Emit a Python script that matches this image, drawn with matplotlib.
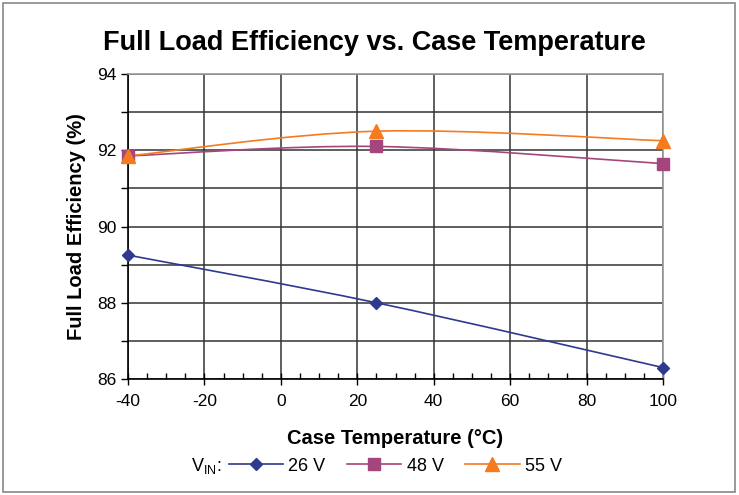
import numpy as np
import matplotlib
matplotlib.use("Agg")
from matplotlib import pyplot as plt
from matplotlib.path import Path
from matplotlib.patches import PathPatch, Rectangle
from matplotlib.lines import Line2D

plt.rcParams['font.family'] = ['Liberation Sans', 'DejaVu Sans']
plt.rcParams['axes.unicode_minus'] = False

temps = [-40, 25, 100]
eff_26v = [89.25, 88.0, 86.3]
eff_48v = [91.85, 92.1, 91.65]
eff_55v = [91.85, 92.5, 92.25]
series_labels = ["26 V", "48 V", "55 V"]
x_ticks = [-40, -20, 0, 20, 40, 60, 80, 100]
y_ticks = [86, 88, 90, 92, 94]


def smooth_path(xs, ys):
    # excel style smoothed line as cubic bezier segments
    pts = np.column_stack([xs, ys]).astype(float)
    ext = np.vstack([pts[0], pts, pts[-1]])
    verts = [pts[0]]
    codes = [Path.MOVETO]
    for i in range(len(pts) - 1):
        p0, p1, p2, p3 = ext[i], ext[i + 1], ext[i + 2], ext[i + 3]
        verts += [p1 + (p2 - p0) / 6, p2 - (p3 - p1) / 6, p2]
        codes += [Path.CURVE4] * 3
    return Path(verts, codes)


fig = plt.figure(figsize=(7.39, 4.95), dpi=100)
ax = fig.add_axes([0.1732, 0.2343, 0.724, 0.6162])

colors = ["#2E3990", "#A5457D", "#F47B20"]
markers = ["D", "s", "^"]
msizes = [6.5, 8.5, 9.5]
handles = []
for ys, c, m, ms, lab in zip([eff_26v, eff_48v, eff_55v], colors, markers, msizes, series_labels):
    ax.add_patch(PathPatch(smooth_path(temps, ys), fc="none", ec=c, lw=1.2, zorder=3))
    ax.plot(temps, ys, ls="none", marker=m, ms=ms, color=c, mec=c, zorder=4, clip_on=False)
    handles.append(Line2D([], [], color=c, lw=1.2, marker=m, ms=ms, mec=c, label=lab))

ax.set_xlim(-40, 100)
ax.set_ylim(86, 94)
ax.set_xticks(x_ticks)
ax.set_xticks(np.arange(-40, 101, 5), minor=True)
ax.set_yticks(np.arange(86, 94.1, 1))
ax.set_yticklabels([str(int(v)) if v in y_ticks else "" for v in np.arange(86, 94.1, 1)])
ax.grid(True, which="major", color="#333333", lw=1.1)
ax.set_axisbelow(True)
ax.tick_params(axis="x", which="major", direction="inout", length=8, width=1, labelsize=12.5, pad=7)
ax.tick_params(axis="x", which="minor", direction="in", length=4, width=1)
ax.tick_params(axis="y", which="major", direction="out", length=5, width=1, labelsize=12.5)
for s in ["left", "bottom"]:
    ax.spines[s].set_color("black")
    ax.spines[s].set_linewidth(1.2)
for s in ["top", "right"]:
    ax.spines[s].set_color("#999999")
    ax.spines[s].set_linewidth(1.2)

ax.set_xlabel("Case Temperature (°C)", fontsize=14.5, fontweight="bold", labelpad=14)
ax.set_ylabel("Full Load Efficiency (%)", fontsize=14.5, fontweight="bold", labelpad=8)
fig.text(0.507, 0.913, "Full Load Efficiency vs. Case Temperature", ha="center", va="center",
         fontsize=19.5, fontweight="bold")

fig.legend(handles=handles, loc="center", bbox_to_anchor=(0.535, 0.058), ncol=3, frameon=False,
           fontsize=13, handlelength=3.0, columnspacing=1.2, handletextpad=0.3)
fig.text(0.259, 0.058, r"V$_{\mathregular{IN}}$:", ha="left", va="center", fontsize=13)

fig.patches.append(Rectangle((0.004, 0.006), 0.991, 0.988, transform=fig.transFigure,
                             fill=False, ec="#888888", lw=1.2))

fig.savefig("out.png", dpi=100)
